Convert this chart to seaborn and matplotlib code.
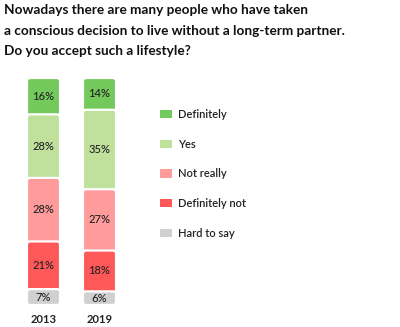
import matplotlib
matplotlib.use("Agg")
import matplotlib.pyplot as plt
import seaborn as sns
import pandas as pd
import numpy as np
from matplotlib.patches import Patch, FancyBboxPatch

years = ["2013", "2019"]
categories = ["Definitely", "Yes", "Not really", "Definitely not", "Hard to say"]
definitely = [16, 14]
yes = [28, 35]
not_really = [28, 27]
definitely_not = [21, 18]
hard_to_say = [7, 6]
colors = ["#74c95c", "#bfe19b", "#ff9b9b", "#ff5858", "#d0d0d0"]
title = ("Nowadays there are many people who have taken\n"
         "a conscious decision to live without a long-term partner.\n"
         "Do you accept such a lifestyle?")

sns.set_theme(style="white")
plt.rcParams["font.family"] = ["Lato", "DejaVu Sans"]

W, H = 400, 327
fig = plt.figure(figsize=(W / 100, H / 100), dpi=100)

# axes geometry in pixels
ax_left, ax_w = 0, 145
y_bot, y_top = 305, 78
ax = fig.add_axes([ax_left / W, (H - y_bot) / H, ax_w / W, (y_bot - y_top) / H])

series = [definitely, yes, not_really, definitely_not, hard_to_say]
# bottom-up order: hard_to_say, definitely_not, not_really, yes, definitely
stack_order = [4, 3, 2, 1, 0]
bottoms = np.zeros(len(years))
segs = []
for idx in stack_order:
    vals = np.array(series[idx], dtype=float)
    segs.append((idx, bottoms.copy(), vals))
    bottoms += vals

df_list = []
for idx, b, v in segs:
    for i, y in enumerate(years):
        df_list.append({"year": y, "cat": categories[idx], "bottom": b[i], "value": v[i], "top": b[i] + v[i]})
df = pd.DataFrame(df_list)

# draw cumulative bars from the largest down (overplot trick)
for idx, b, v in reversed(segs):
    sub = df[df["cat"] == categories[idx]]
    sns.barplot(data=sub, x="year", y="top", color=colors[idx], width=0.59,
                edgecolor="white", linewidth=1.6, saturation=1, ax=ax, order=years)

ax.set_xlim(-43.5 / 56, (ax_w - 43.5) / 56)
ax.set_ylim(0, 100)
ax.axis("off")

# round the corners of the bars
px_x = 56.0  # px per x unit
px_y = (y_bot - y_top) / 100.0
patches = list(ax.patches)
for p in patches:
    x0, y0 = p.get_x(), p.get_y()
    w, h = p.get_width(), p.get_height()
    fc = p.get_facecolor()
    p.remove()
    fb = FancyBboxPatch((x0, y0), w, h,
                        boxstyle="round,pad=0,rounding_size=%f" % (3 / px_x),
                        mutation_aspect=px_x / px_y,
                        facecolor=fc, edgecolor="white", linewidth=1.6)
    ax.add_patch(fb)

# segment labels
for _, r in df.iterrows():
    xi = years.index(r["year"])
    ax.text(xi, r["bottom"] + r["value"] / 2, f"{int(r['value'])}%",
            ha="center", va="center", fontsize=8, fontweight="medium", color="#222222")

# year labels
for i, y in enumerate(years):
    ax.text(i, -6.3, y, ha="center", va="center", fontsize=8, fontweight="bold",
            color="#222222", clip_on=False)

fig.text(4 / W, 1 - 4 / H, title, ha="left", va="top", fontsize=9.8,
         fontweight="bold", color="#111111", linespacing=1.87)

handles = [Patch(facecolor=c, edgecolor="none", label=l) for c, l in zip(colors, categories)]
leg = fig.legend(handles=handles, loc="upper left", bbox_to_anchor=(150 / W, 1 - 99 / H),
                 frameon=False, fontsize=8, handlelength=1.1, handleheight=0.8,
                 handletextpad=0.5, labelspacing=1.68)
for t in leg.get_texts():
    t.set_fontweight("semibold")
    t.set_color("#222222")

fig.savefig("out.png", dpi=100)
